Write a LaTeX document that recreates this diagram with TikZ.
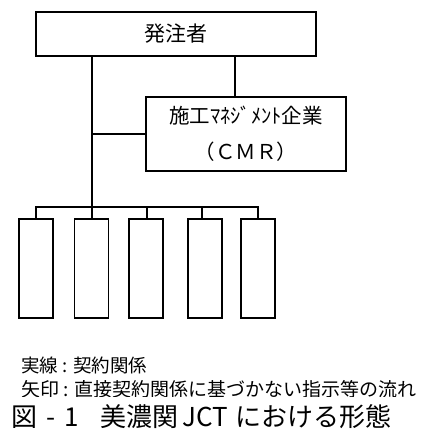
\documentclass[tikz,border=0pt]{standalone}
\usepackage{fontspec}
\setmainfont{Noto Sans CJK JP}
\begin{document}
\begin{tikzpicture}[x=1pt,y=-1pt,
  box/.style={draw, line width=1.4pt, inner sep=0pt, fill=white},
  conn/.style={line width=1.4pt},
  unitbox/.style={box, minimum width=34pt, minimum height=99pt}]
\useasboundingbox (0,0) rectangle (431,430);
\node[box, minimum width=280pt, minimum height=44pt, font=\fontsize{21}{24}\selectfont] (top) at (176,34) {発注者};
\node[box, minimum width=200pt, minimum height=74pt, align=center, font=\fontsize{20.5}{36}\selectfont] (cmr) at (246,134) {施工ﾏﾈｼﾞﾒﾝﾄ企業\\（ＣＭＲ）};
\node[unitbox] (b1) at (36,268.5) {};
\node[unitbox] (b2) at (91.5,268.5) {};
\node[unitbox] (b3) at (146,268.5) {};
\node[unitbox] (b4) at (205,268.5) {};
\node[unitbox] (b5) at (258,268.5) {};
\coordinate (tx) at (235,56);
\coordinate (trunk) at (92,56);
\coordinate (bl) at (36,207);
\coordinate (br) at (258,207);
\coordinate (d1) at (36,207);
\coordinate (d2) at (92,207);
\coordinate (d3) at (147,207);
\coordinate (d4) at (202,207);
\coordinate (d5) at (258,207);
\draw[conn] (tx) -- (tx |- cmr.north);
\draw[conn] (trunk) -- (d2);
\draw[conn] (trunk |- cmr.west) -- (cmr.west);
\draw[conn, line cap=rect] (bl) -- (br);
\draw[conn] (d1) -- (d1 |- b1.north);
\draw[conn] (d2) -- (d2 |- b2.north);
\draw[conn] (d3) -- (d3 |- b3.north);
\draw[conn] (d4) -- (d4 |- b4.north);
\draw[conn] (d5) -- (d5 |- b5.north);
\node[anchor=west, inner sep=0pt, font=\fontsize{18.5}{20}\selectfont] (l1) at (21,365) {実線 : 契約関係};
\begin{scope}
\clip (0,372) rectangle (431,396);
\node[anchor=west, inner sep=0pt, font=\fontsize{19}{20}\selectfont] (l2) at (21,389) {矢印 : 直接契約関係に基づかない指示等の流れ};
\end{scope}
\node[anchor=west, inner sep=0pt, font=\fontsize{26}{28}\selectfont] (cap) at (11,417) {図\hspace{9pt}-\hspace{9pt}1\hspace{22pt}美濃関\hspace{4pt}JCT\hspace{7pt}における形態};
\end{tikzpicture}
\end{document}
